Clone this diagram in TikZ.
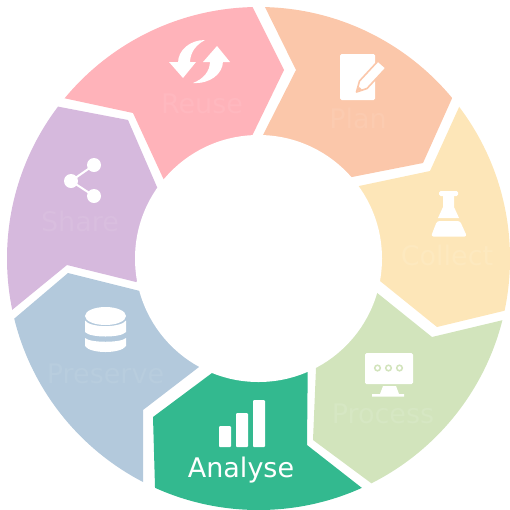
\documentclass[tikz,border=0pt]{standalone}
\usepackage{fontspec}
\setmainfont{DejaVu Sans}
\definecolor{cReuse}{HTML}{FFB3BA}
\definecolor{cPlan}{HTML}{FBC7AA}
\definecolor{cCollect}{HTML}{FDE6B8}
\definecolor{cProcess}{HTML}{D2E4BC}
\definecolor{cAnalyse}{HTML}{33B98F}
\definecolor{cPreserve}{HTML}{B3C9DC}
\definecolor{cShare}{HTML}{D6B9DD}
\tikzset{
  seglabel/.style={anchor=base,font=\fontsize{27}{27}\selectfont,inner sep=0pt,text=#1},
  icon/.style={fill=white,draw=none},
}
\begin{document}
\begin{tikzpicture}[x=1pt,y=-1pt,line join=miter]
\useasboundingbox (0,0) rectangle (510,509);
\begin{scope}
\clip (258.5,258.5) circle[radius=251.5];
% Reuse
\fill[cReuse] (40,93) -- (133,113) -- (163,178) -- (200,240) -- (280,136) -- (252,136) -- (284,70) -- (246,-6) -- (40,-6) -- cycle;
% Plan
\fill[cPlan] (259,-5) -- (296,70) -- (263,135) -- (290,200) -- (345,178.5) -- (352,177) -- (423,163) -- (458,85) -- (470,-5) -- cycle;
% Collect
\fill[cCollect] (465,94) -- (430,171) -- (359,186) -- (300,240) -- (380,281) -- (437,327) -- (520,307) -- (520,94) -- cycle;
% Process
\fill[cProcess] (520,316) -- (432,337) -- (376,292) -- (310,320) -- (316,368) -- (313,440) -- (371,483) -- (385,495) -- (520,495) -- cycle;
% Analyse
\fill[cAnalyse] (212,373) -- (240,320) -- (308,340) -- (307,445) -- (362,488) -- (378,500) -- (378,515) -- (155,515) -- (155,487) -- (153,417) -- cycle;
% Preserve
\fill[cPreserve] (140,291) -- (190,310) -- (199,367) -- (143,410) -- (143,500) -- (-10,500) -- (-5,337) -- (15,318) -- (68,273) -- cycle;
% Share
\fill[cShare] (34,102) -- (128,120) -- (157,187) -- (200,230) -- (136,282) -- (67,265) -- (12,310) -- (-8,326) -- (-8,102) -- cycle;
\end{scope}
\fill[white] (258.5,258.5) circle[radius=123.5];
% labels
\node[seglabel=cReuse!93!white] (lreuse) at (202,113) {Reuse};
\node[seglabel=cPlan!93!white] (lplan) at (358,128) {Plan};
\node[seglabel=cCollect!90!white] (lcollect) at (447,265) {Collect};
\node[seglabel=cProcess!90!white] (lprocess) at (383,423) {Process};
\node[seglabel=white] (lanalyse) at (241,477) {Analyse};
\node[seglabel=cPreserve!93!white] (lpreserve) at (105.5,383) {Preserve};
\node[seglabel=cShare!93!white] (lshare) at (80,231) {Share};
% Reuse icon
\fill[icon] (169,62) -- (196,62) -- (183,78) -- cycle;
\fill[icon] (178,63) .. controls (178,50) and (190,40) .. (205,40) .. controls (196,45) and (190,52) .. (190,63) -- cycle;
\fill[icon] (203,62) -- (230,62) -- (217,46) -- cycle;
\fill[icon] (223,61) .. controls (223,74) and (210,84) .. (193,83) .. controls (203,79) and (210,72) .. (210,61) -- cycle;
% Plan icon
\fill[icon,rounded corners=1.5pt] (340,54) rectangle (375,100);
\draw[cPlan,fill=white,line width=1.6pt,line join=round] (356.5,92) -- (359.5,81) -- (378,61) -- (386,68) -- (367,88.5) -- cycle;
\fill[cPlan] (357.5,91) -- (358.6,86.5) -- (362,89.5) -- cycle;
% Collect icon
\fill[icon,rounded corners=1.5pt] (439,191) rectangle (458,196);
\fill[icon] (443,195) -- (454,195) -- (454,207) -- (459,218) -- (438,218) -- (443,207) -- cycle;
\fill[icon,rounded corners=2.5pt] (437,221) -- (460,221) -- (467,236.5) -- (431,236.5) -- cycle;
% Process icon
\fill[icon,rounded corners=1.5pt] (365,353) rectangle (413,384);
\fill[icon] (383,386) -- (396,386) -- (399,394) -- (404,394) -- (404,396.5) -- (372,396.5) -- (372,394) -- (380,394) -- cycle;
\foreach \cx in {377.5,388.5,399.5}{
  \draw[cProcess,line width=1.5pt,fill=white] (\cx,368) circle[radius=2.8];
}
% Analyse icon
\fill[icon,rounded corners=1pt] (219,426) rectangle (231,447);
\fill[icon,rounded corners=1pt] (236,413) rectangle (248,447);
\fill[icon,rounded corners=1pt] (253,400) rectangle (265,447);
% Preserve icon
\fill[icon] (105.5,316) ellipse[x radius=20.5,y radius=9];
\fill[icon] (85,320.5) .. controls (90,328) and (121,328) .. (126,320.5) -- (126,332) .. controls (121,338) and (90,338) .. (85,332) -- cycle;
\fill[icon] (85,338) .. controls (90,343) and (121,343) .. (126,338) -- (126,346) .. controls (121,354) and (90,354) .. (85,346) -- cycle;
% Share icon
\draw[white,line width=2pt] (94,165) -- (71,181) -- (94,196);
\fill[icon] (94,165) circle[radius=7];
\fill[icon] (71,181) circle[radius=7];
\fill[icon] (94,196) circle[radius=7];
\end{tikzpicture}
\end{document}
